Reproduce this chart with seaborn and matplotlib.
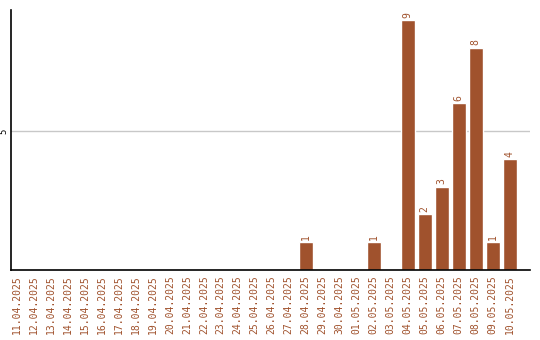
import matplotlib
matplotlib.use("Agg")
import matplotlib.pyplot as plt
import seaborn as sns
import pandas as pd

dates = ["11.04.2025", "12.04.2025", "13.04.2025", "14.04.2025", "15.04.2025",
         "16.04.2025", "17.04.2025", "18.04.2025", "19.04.2025", "20.04.2025",
         "21.04.2025", "22.04.2025", "23.04.2025", "24.04.2025", "25.04.2025",
         "26.04.2025", "27.04.2025", "28.04.2025", "29.04.2025", "30.04.2025",
         "01.05.2025", "02.05.2025", "03.05.2025", "04.05.2025", "05.05.2025",
         "06.05.2025", "07.05.2025", "08.05.2025", "09.05.2025", "10.05.2025"]
counts = [0, 0, 0, 0, 0, 0, 0, 0, 0, 0,
          0, 0, 0, 0, 0, 0, 0, 1, 0, 0,
          0, 1, 0, 9, 2, 3, 6, 8, 1, 4]
yticks = [5]

color = "#A0522D"
df = pd.DataFrame({"date": dates, "count": counts})

sns.set_style("white")
plt.rcParams["font.family"] = ["DejaVu Sans Mono"]

fig = plt.figure(figsize=(5.4, 3.4), dpi=100)
ax = fig.add_axes([11 / 540, 1 - 270 / 340, 519 / 540, 260 / 340])

sns.barplot(data=df, x="date", y="count", color=color, saturation=1,
            width=0.82, ax=ax, zorder=2)

for i, v in enumerate(counts):
    if v > 0:
        ax.text(i, v + 0.08, str(v), rotation=90, ha="center", va="bottom",
                fontsize=7, color=color)

ax.set_ylim(0, 9.35)
ax.set_xlim(-0.35, 30.2)
ax.set_yticks(yticks)
ax.set_yticklabels([str(t) for t in yticks], rotation=90, va="center",
                   fontsize=6.5, color="black")
ax.yaxis.grid(True, color="#c8c8c8", linewidth=1, zorder=0)
ax.xaxis.grid(False)
ax.set_xticks(range(len(dates)))
ax.set_xticklabels(dates, rotation=90, fontsize=7, color=color)
ax.tick_params(axis="both", length=0, pad=4)
ax.tick_params(axis="y", pad=2)
ax.set_xlabel("")
ax.set_ylabel("")
for s in ["top", "right"]:
    ax.spines[s].set_visible(False)
for s in ["left", "bottom"]:
    ax.spines[s].set_color("black")
    ax.spines[s].set_linewidth(1.2)

fig.savefig("out.png", dpi=100)
